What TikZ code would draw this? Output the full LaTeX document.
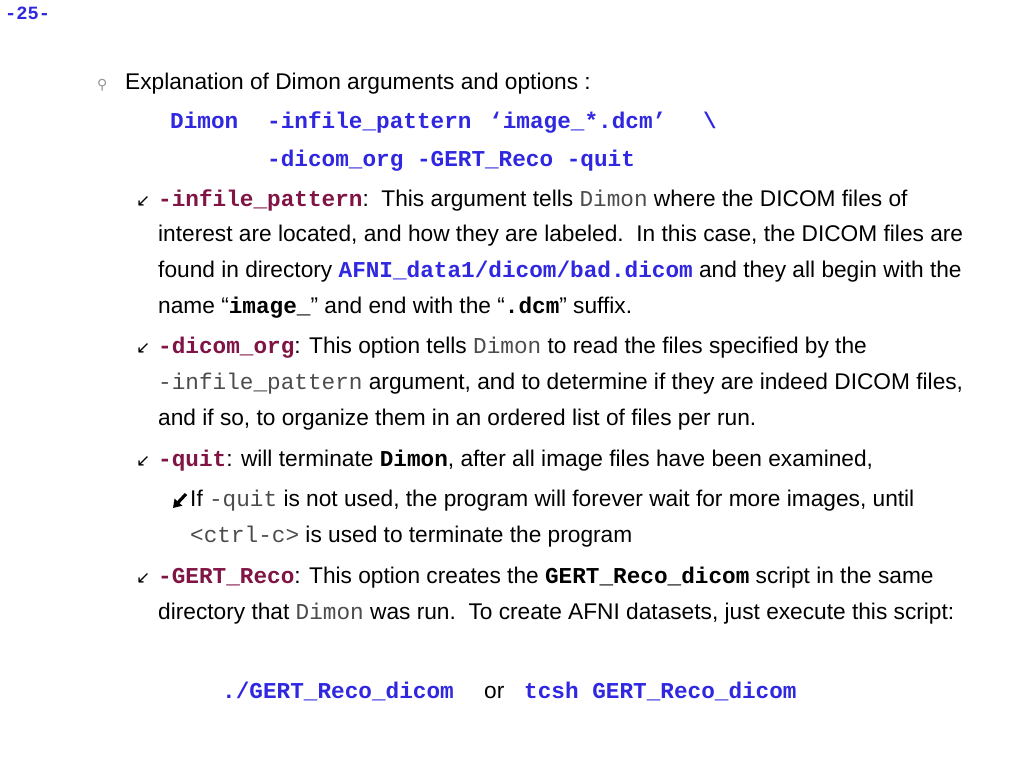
\documentclass[tikz,border=0pt]{standalone}
\usepackage{fontspec}
\setmainfont{Liberation Sans}
\setmonofont{Liberation Mono}
\newfontfamily\djv{DejaVu Sans}
\usepackage{xcolor}
\usetikzlibrary{arrows.meta}
\definecolor{myblue}{RGB}{48,40,224}
\definecolor{mymaroon}{RGB}{128,20,68}
\definecolor{bulgrey}{RGB}{150,150,150}
\newcommand{\bb}[1]{{\ttfamily\bfseries\color{myblue}#1}}
\newcommand{\bm}[1]{{\ttfamily\bfseries\color{mymaroon}#1}}
\newcommand{\mt}[1]{{\ttfamily\color{black!70}#1}}
\newcommand{\bk}[1]{{\ttfamily\bfseries #1}}
\begin{document}
\begin{tikzpicture}[x=1pt,y=-1pt,
  txt/.style={anchor=base west,inner sep=0pt,font=\fontsize{22.7}{27}\selectfont},
  bul/.style={anchor=base west,inner sep=0pt},
  thinarrow/.style={bul,font=\djv\fontsize{17}{20}\selectfont},
  heavyarrow/.style={line width=3.2pt,-{Triangle[length=8pt,width=10pt]}},
]
\useasboundingbox[fill=white] (0,0) rectangle (1024,768);
\node[txt,font=\fontsize{18.7}{22}\selectfont] (pg) at (5,20) {\bb{-25-}};
\node[bul,text=bulgrey,font=\djv\fontsize{14}{16}\selectfont] (b0) at (97,89) {⚲};
\node[txt] (l0) at (125,89) {Explanation of Dimon arguments and options :};
\node[txt] (c1) at (170,128) {\bb{Dimon}};
\node[txt] (c2) at (267,128) {\bb{-infile\_pattern}};
\node[txt] (c3) at (489,128) {\bb{‘image\_*.dcm’}};
\node[txt] (c4) at (703,128) {\bb{\textbackslash}};
\node[txt] (c5) at (267,166) {\bb{-dicom\_org -GERT\_Reco -quit}};
\node[thinarrow] (b1) at (136,206) {↙};
\node[txt] (l1) at (158,206) {\bm{-infile\_pattern}:\ \ This argument tells \mt{Dimon} where the DICOM files of};
\node[txt] (l2) at (158,241) {interest are located, and how they are labeled.\ \ In this case, the DICOM files are};
\node[txt] (l3) at (158,277) {found in directory \bb{AFNI\_data1/dicom/bad.dicom} and they all begin with the};
\node[txt] (l4) at (158,313) {name “\bk{image\_}” and end with the “\bk{.dcm}” suffix.};
\node[thinarrow] (b2) at (136,353) {↙};
\node[txt] (l5) at (158,353) {\bm{-dicom\_org}: This option tells \mt{Dimon} to read the files specified by the};
\node[txt] (l6) at (158,389) {\mt{-infile\_pattern} argument, and to determine if they are indeed DICOM files,};
\node[txt] (l7) at (158,425) {and if so, to organize them in an ordered list of files per run.};
\node[thinarrow] (b3) at (136,466) {↙};
\node[txt] (l8) at (158,466) {\bm{-quit}: will terminate \bk{Dimon}, after all image files have been examined,};
\coordinate (h1) at (186,494);
\coordinate (h2) at (173,508);
\draw[heavyarrow] (h1) -- (h2);
\node[txt] (l9) at (190,506) {If \mt{-quit} is not used, the program will forever wait for more images, until};
\node[txt] (l10) at (190,542) {\mt{<ctrl-c>} is used to terminate the program};
\node[thinarrow] (b5) at (136,583) {↙};
\node[txt] (l11) at (158,583) {\bm{-GERT\_Reco}: This option creates the \bk{GERT\_Reco\_dicom} script in the same};
\node[txt] (l12) at (158,619) {directory that \mt{Dimon} was run.\ \ To create AFNI datasets, just execute this script:};
\node[txt] (f1) at (222,698) {\bb{./GERT\_Reco\_dicom}};
\node[txt] (f2) at (484,698) {or};
\node[txt] (f3) at (524,698) {\bb{tcsh GERT\_Reco\_dicom}};
\end{tikzpicture}
\end{document}
